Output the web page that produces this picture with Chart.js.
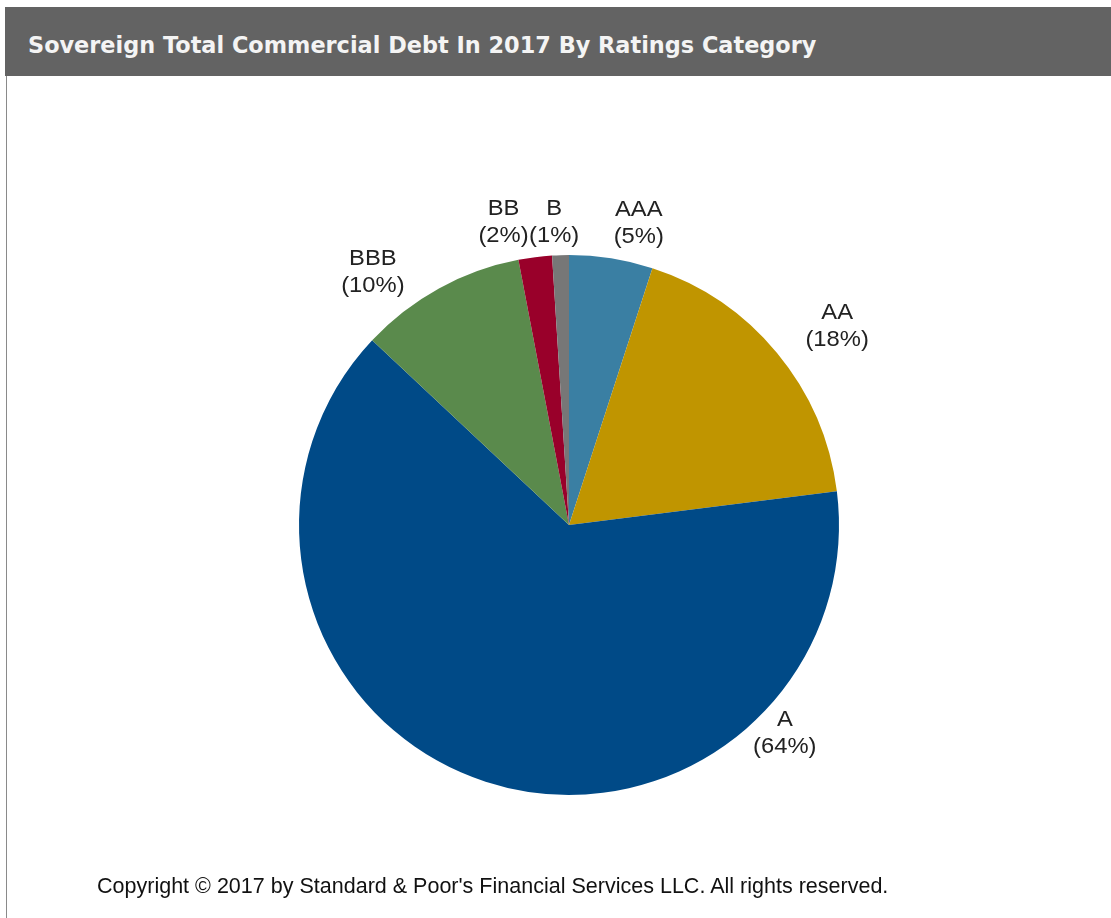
<!DOCTYPE html>
<html>
<head>
<meta charset="utf-8">
<script src="https://cdn.jsdelivr.net/npm/chart.js@4/dist/chart.umd.min.js"></script>
<style>
  html, body { margin: 0; padding: 0; background: #fff; width: 1111px; height: 918px; overflow: hidden; }
  #title {
    position: absolute; left: 5px; top: 7px; width: 1106px; height: 69px;
    background: #636363; color: #f4f4f4;
    font: bold 22.4px "DejaVu Sans", Verdana, sans-serif;
    line-height: 76px; box-sizing: border-box; padding-left: 23px;
    white-space: nowrap;
  }
  #leftEdge { position: absolute; left: 6px; top: 76px; width: 1px; height: 842px; background: #8a8a8a; }
  #wrap { position: absolute; left: 0; top: 76px; width: 1111px; height: 842px; }
  #note {
    position: absolute; left: 97px; top: 873px;
    font: 22px "Liberation Sans", Arial, sans-serif;
    color: #111; white-space: nowrap;
    transform: scaleX(0.978); transform-origin: 0 0;
  }
</style>
</head>
<body>
<div id="title">Sovereign Total Commercial Debt In 2017 By Ratings Category</div>
<div id="leftEdge"></div>
<div id="wrap"><canvas id="pie"></canvas></div>
<div id="note">Copyright © 2017 by Standard &amp; Poor's Financial Services LLC. All rights reserved.</div>
<script>
// rating buckets, clockwise from 12 o'clock
const ratings = ['AAA', 'AA', 'A', 'BBB', 'BB', 'B'];
const shares = [5, 18, 64, 10, 2, 1];
const sliceColors = ['#3a7fa3', '#c09500', '#004a87', '#5a8a4c', '#99002a', '#777777'];

// label placement: angle nudge (deg) and distance beyond the rim (px)
const labelTurn = [4, 3, -64, -9, -5, -1];
const labelGap = [40, 64, 30, 50, 40, 33];

const outsideLabels = {
  id: 'outsideLabels',
  afterDatasetsDraw(chart) {
    const ctx = chart.ctx;
    const meta = chart.getDatasetMeta(0);
    ctx.save();
    ctx.font = '22px "Liberation Sans", Arial, sans-serif';
    ctx.fillStyle = '#222';
    ctx.textAlign = 'center';
    ctx.textBaseline = 'middle';
    meta.data.forEach((arc, i) => {
      const p = arc.getProps(['x', 'y', 'startAngle', 'endAngle', 'outerRadius'], true);
      const mid = (p.startAngle + p.endAngle) / 2 + labelTurn[i] * Math.PI / 180;
      const r = p.outerRadius + labelGap[i];
      const lx = p.x + Math.cos(mid) * r;
      const ly = p.y + Math.sin(mid) * r;
      // slightly wide lettering
      ctx.save();
      ctx.translate(lx, ly);
      ctx.scale(1.08, 1);
      ctx.fillText(ratings[i], 0, -13);
      ctx.fillText('(' + shares[i] + '%)', 0, 14);
      ctx.restore();
    });
    ctx.restore();
  }
};

new Chart(document.getElementById('pie'), {
  type: 'pie',
  data: {
    labels: ratings,
    datasets: [{
      data: shares,
      backgroundColor: sliceColors,
      borderWidth: 0
    }]
  },
  plugins: [outsideLabels],
  options: {
    responsive: true,
    maintainAspectRatio: false,
    animation: false,
    layout: { padding: { left: 299, right: 272, top: 179, bottom: 123 } },
    plugins: {
      legend: { display: false },
      tooltip: { enabled: false }
    }
  }
});
</script>
</body>
</html>
